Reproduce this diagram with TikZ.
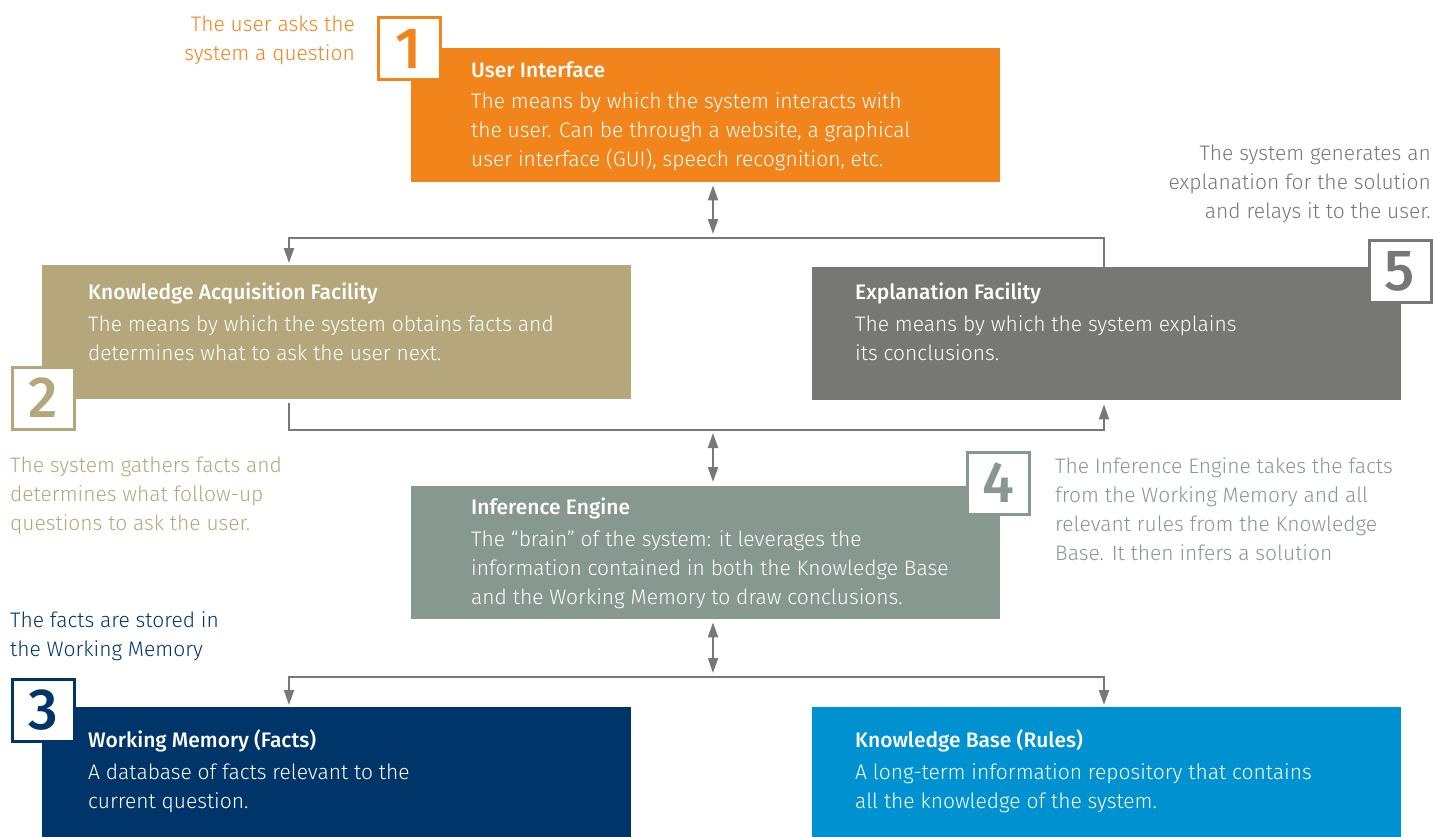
\documentclass[tikz,border=0pt]{standalone}
\usepackage{fontspec}
\setmainfont{Fira Sans Light}[BoldFont={Fira Sans Medium}]
\usetikzlibrary{arrows.meta,calc}
\definecolor{uiorange}{HTML}{F1841B}
\definecolor{kaftan}{HTML}{B5A77B}
\definecolor{explgray}{HTML}{777876}
\definecolor{iegreen}{HTML}{869890}
\definecolor{wmblue}{HTML}{00356A}
\definecolor{kbblue}{HTML}{0091D0}
\definecolor{linegray}{HTML}{787878}
\begin{document}
\begin{tikzpicture}[x=1pt,y=-1pt]
\tikzstyle{box} = [rectangle, inner sep=0, minimum width=589pt, minimum height=134pt, anchor=north west]
\tikzstyle{txt} = [inner sep=0, anchor=north west, align=left, text=white, font=\fontsize{21}{29}\selectfont]
\tikzstyle{note} = [inner sep=0, align=left, font=\fontsize{21}{29}\selectfont]
\tikzstyle{num} = [rectangle, draw, fill=white, line width=3pt, minimum size=62pt, inner sep=0, font=\fontsize{58}{58}\selectfont\bfseries]
\tikzstyle{link} = [draw=linegray, line width=2pt, -{Triangle[length=15pt,width=10pt]}]
\tikzstyle{twoway} = [draw=linegray, line width=2pt, {Triangle[length=15pt,width=10pt]}-{Triangle[length=15pt,width=10pt]}]
\useasboundingbox (0,0) rectangle (1434,837);
%
\node[box, fill=uiorange] (ui) at (411,48) {};
\node[box, fill=kaftan] (kaf) at (42,265) {};
\node[box, fill=explgray, minimum height=133pt] (expl) at (812,267) {};
\node[box, fill=iegreen, minimum height=133pt] (ie) at (411,486) {};
\node[box, fill=wmblue, minimum height=130pt] (wm) at (42,707) {};
\node[box, fill=kbblue, minimum height=130pt] (kb) at (812,707) {};
%
\node[txt] (uitxt) at ([shift={(60,13)}]ui.north west) {\textbf{User Interface}\\[2pt]
The means by which the system interacts with\\
the user. Can be through a website, a graphical\\
user interface (GUI), speech recognition, etc.};
\node[txt] (kaftxt) at ([shift={(46,18)}]kaf.north west) {\textbf{Knowledge Acquisition Facility}\\[3pt]
The means by which the system obtains facts and\\
determines what to ask the user next.};
\node[txt] (expltxt) at ([shift={(43,16)}]expl.north west) {\textbf{Explanation Facility}\\[3pt]
The means by which the system explains\\
its conclusions.};
\node[txt] (ietxt) at ([shift={(60,12)}]ie.north west) {\textbf{Inference Engine}\\[3pt]
The “brain” of the system: it leverages the\\
information contained in both the Knowledge Base\\
and the Working Memory to draw conclusions.};
\node[txt] (wmtxt) at ([shift={(46,22)}]wm.north west) {\textbf{Working Memory (Facts)}\\[3pt]
A database of facts relevant to the\\
current question.};
\node[txt] (kbtxt) at ([shift={(43,22)}]kb.north west) {\textbf{Knowledge Base (Rules)}\\[3pt]
A long-term information repository that contains\\
all the knowledge of the system.};
%
\node[num, draw=uiorange, text=uiorange] (n1) at (409,49) {1};
\node[num, draw=kaftan, text=kaftan] (n2) at (43,398) {2};
\node[num, draw=wmblue, text=wmblue] (n3) at (43,710) {3};
\node[num, draw=iegreen, text=iegreen] (n4) at (998,483) {4};
\node[num, draw=explgray, text=explgray] (n5) at (1400,271) {5};
%
\node[note, anchor=north east, align=right, text=uiorange] (q1) at (355,16) {The user asks the\\ system a question};
\node[note, anchor=north west, text=kaftan] (q2) at (10,457) {The system gathers facts and\\ determines what follow-up\\ questions to ask the user.};
\node[note, anchor=north west, text=wmblue] (q3) at (10,611) {The facts are stored in\\ the Working Memory};
\node[note, anchor=north west, text=iegreen] (q4) at (1055,457) {The Inference Engine takes the facts\\ from the Working Memory and all\\ relevant rules from the Knowledge\\ Base. It then infers a solution};
\node[note, anchor=north east, align=right, text=explgray] (q5) at (1431,145) {The system generates an\\ explanation for the solution\\ and relays it to the user.};
%
\coordinate (mid) at (713,0);
\coordinate (lx) at (289,0);
\coordinate (rx) at (1104,0);
\coordinate (b1) at (713,238);
\coordinate (b2) at (713,430);
\coordinate (b3) at (713,677);
%
\draw[twoway, shorten <=3pt, shorten >=4pt] (ui.south -| mid) -- (b1);
\draw[link, shorten >=2pt] (expl.north -| rx) |- (b1) -| (kaf.north -| lx);
\draw[link, shorten <=4pt, shorten >=4pt] (kaf.south -| lx) |- (b2) -| (expl.south -| rx);
\draw[twoway, shorten <=3pt, shorten >=4pt] (b2) -- (ie.north -| mid);
\draw[twoway, shorten <=3pt, shorten >=4pt] (ie.south -| mid) -- (b3);
\draw[link, shorten >=2pt] (b3) -| (wm.north -| lx);
\draw[link, shorten >=2pt] (b3) -| (kb.north -| rx);
\end{tikzpicture}
\end{document}
